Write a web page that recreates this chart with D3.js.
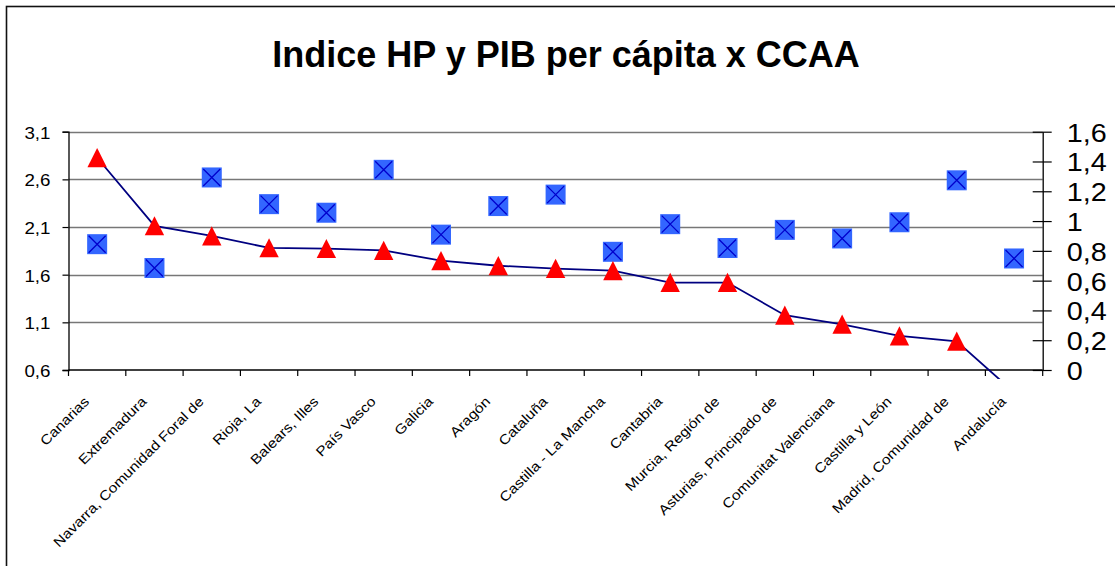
<!DOCTYPE html>
<html>
<head>
<meta charset="utf-8">
<script src="https://cdn.jsdelivr.net/npm/d3@7"></script>
<style>
    body { margin: 0; background: #fff; }
    svg text { font-family: "Liberation Sans", Arial, sans-serif; fill: #000; }
</style>
</head>
<body>
<div id="chart"></div>
<script>

// Comunidades autonomas, ordered as in the chart
var categories = ["Canarias", "Extremadura", "Navarra, Comunidad Foral de", "Rioja, La", "Balears, Illes",
    "País Vasco", "Galicia", "Aragón", "Cataluña", "Castilla - La Mancha", "Cantabria", "Murcia, Región de",
    "Asturias, Principado de", "Comunitat Valenciana", "Castilla y León", "Madrid, Comunidad de", "Andalucía"];

// PIB per capita (blue squares, left axis)
var pibPerCapita = [1.92, 1.67, 2.62, 2.34, 2.25, 2.70, 2.02, 2.32, 2.44, 1.84, 2.13, 1.88, 2.07, 1.98, 2.15, 2.59, 1.77];

// Indice HP (red triangles + line, right axis)
var indiceHP = [1.425, 0.968, 0.90, 0.82, 0.815, 0.803, 0.734, 0.70, 0.681, 0.667, 0.587, 0.587, 0.368, 0.307, 0.229, 0.193, -0.15];

var leftTicks = [0.6, 1.1, 1.6, 2.1, 2.6, 3.1];
var rightTicks = [0, 0.2, 0.4, 0.6, 0.8, 1, 1.2, 1.4, 1.6];

var title = "Indice HP y PIB per cápita x CCAA";


ComboChart = function(_parentElement){
    this.parentElement = _parentElement;
    this.initVis();
}

ComboChart.prototype.initVis = function() {
    var vis = this;

    vis.width = 1115;
    vis.height = 566;
    vis.plot = { left: 68.5, right: 1042.7, top: 131.7, bottom: 370 };

    vis.svg = d3.select("#" + vis.parentElement).append("svg")
        .attr("width", vis.width)
        .attr("height", vis.height);

    // outer chart frame (runs off the right and bottom edges)
    vis.svg.append("rect")
        .attr("x", 6.5).attr("y", 6.5)
        .attr("width", vis.width + 20).attr("height", vis.height + 20)
        .attr("fill", "none")
        .attr("stroke", "#111")
        .attr("stroke-width", 1.6);

    vis.x = d3.scaleBand()
        .domain(categories)
        .range([vis.plot.left, vis.plot.right]);

    vis.yLeft = d3.scaleLinear()
        .domain([0.6, 3.1])
        .range([vis.plot.bottom, vis.plot.top]);

    vis.yRight = d3.scaleLinear()
        .domain([0, 1.6])
        .range([vis.plot.bottom, vis.plot.top]);

    vis.comma = function(v) { return d3.format("")(+v.toFixed(1)).replace(".", ","); };

    vis.drawVis();
}

ComboChart.prototype.drawVis = function() {
    var vis = this;

    // title
    vis.svg.append("text")
        .attr("x", 566).attr("y", 67)
        .attr("text-anchor", "middle")
        .style("font-size", "36px")
        .style("font-weight", "bold")
        .text(title);

    // horizontal gridlines at the left axis ticks
    vis.svg.append("g")
        .attr("class", "grid")
        .selectAll("line")
        .data(leftTicks.slice(1))
        .enter().append("line")
        .attr("x1", vis.plot.left).attr("x2", vis.plot.right)
        .attr("y1", function(d) { return Math.round(vis.yLeft(d)) + 0.5; })
        .attr("y2", function(d) { return Math.round(vis.yLeft(d)) + 0.5; })
        .attr("stroke", "#777")
        .attr("stroke-width", 1.3);

    // left axis
    var leftAxis = d3.axisLeft(vis.yLeft)
        .tickValues(leftTicks)
        .tickSize(6)
        .tickFormat(vis.comma);

    var gl = vis.svg.append("g")
        .attr("transform", "translate(" + vis.plot.left + ",0)")
        .call(leftAxis);
    gl.select(".domain").attr("stroke", "#000").attr("stroke-width", 1.3);
    gl.selectAll(".tick line").attr("stroke", "#000").attr("stroke-width", 1.2);
    gl.selectAll(".tick text")
        .attr("x", null).attr("dy", null)
        .attr("text-anchor", "end")
        .attr("transform", "translate(-18,6.5) scale(1.15,1)")
        .style("font-size", "16.3px");

    // right axis, ticks cross the axis line
    var rightAxis = d3.axisRight(vis.yRight)
        .tickValues(rightTicks)
        .tickSize(0)
        .tickFormat(vis.comma);

    var gr = vis.svg.append("g")
        .attr("transform", "translate(" + vis.plot.right + ",0)")
        .call(rightAxis);
    gr.select(".domain").attr("stroke", "#000").attr("stroke-width", 1.3);
    gr.selectAll(".tick line")
        .attr("x1", -10).attr("x2", 9)
        .attr("stroke", "#000").attr("stroke-width", 1.2);
    gr.selectAll(".tick text")
        .attr("x", null).attr("dy", null)
        .attr("text-anchor", "start")
        .attr("transform", "translate(24,9.5) scale(1.15,1)")
        .style("font-size", "25px");

    // bottom axis: ticks between categories, rotated labels
    var gb = vis.svg.append("g").attr("class", "x-axis");
    gb.append("line")
        .attr("x1", vis.plot.left).attr("x2", vis.plot.right)
        .attr("y1", vis.plot.bottom).attr("y2", vis.plot.bottom)
        .attr("stroke", "#000").attr("stroke-width", 1.3);

    var bounds = categories.map(function(c) { return vis.x(c); }).concat([vis.plot.right]);
    gb.selectAll(".xtick")
        .data(bounds)
        .enter().append("line")
        .attr("class", "xtick")
        .attr("x1", function(d) { return d; }).attr("x2", function(d) { return d; })
        .attr("y1", vis.plot.bottom).attr("y2", vis.plot.bottom + 6)
        .attr("stroke", "#000").attr("stroke-width", 1.2);

    gb.selectAll(".xlabel")
        .data(categories)
        .enter().append("text")
        .attr("class", "xlabel")
        .attr("text-anchor", "end")
        .attr("dy", "0.35em")
        .attr("transform", function(d) {
            var cx = vis.x(d) + vis.x.bandwidth() / 2;
            return "translate(" + (cx - 10.5) + ",399) rotate(-45) scale(1.15,1)";
        })
        .style("font-size", "13.6px")
        .text(function(d) { return d; });

    // clip region for series (line runs a bit past the axis before being cut)
    vis.svg.append("clipPath")
        .attr("id", "plotClip")
        .append("rect")
        .attr("x", vis.plot.left).attr("y", vis.plot.top - 20)
        .attr("width", vis.plot.right - vis.plot.left)
        .attr("height", 379 - vis.plot.top + 20);

    var series = vis.svg.append("g").attr("clip-path", "url(#plotClip)");

    var cxOf = function(i) { return vis.x(categories[i]) + vis.x.bandwidth() / 2; };

    // blue squares with an X
    var sq = series.append("g")
        .attr("class", "squares")
        .selectAll("g")
        .data(pibPerCapita)
        .enter().append("g")
        .attr("transform", function(d, i) {
            return "translate(" + cxOf(i) + "," + vis.yLeft(d) + ")";
        });

    sq.append("rect")
        .attr("x", -10).attr("y", -10)
        .attr("width", 20).attr("height", 20)
        .attr("fill", "#3366ff");

    sq.append("path")
        .attr("d", "M-8.5,-8.5L8.5,8.5M8.5,-8.5L-8.5,8.5")
        .attr("stroke", "#0000cc")
        .attr("stroke-width", 1.3);

    // line for the indice
    var line = d3.line()
        .x(function(d, i) { return cxOf(i); })
        .y(function(d) { return vis.yRight(d); });

    series.append("path")
        .datum(indiceHP)
        .attr("d", line)
        .attr("fill", "none")
        .attr("stroke", "#000080")
        .attr("stroke-width", 1.8);

    // red triangles
    series.append("g")
        .attr("class", "triangles")
        .selectAll("path")
        .data(indiceHP)
        .enter().append("path")
        .attr("transform", function(d, i) {
            return "translate(" + cxOf(i) + "," + vis.yRight(d) + ")";
        })
        .attr("d", "M0,-9.7L9.7,9.5L-9.7,9.5Z")
        .attr("fill", "#ff0000");
}

var chart = new ComboChart("chart");

</script>
</body>
</html>
